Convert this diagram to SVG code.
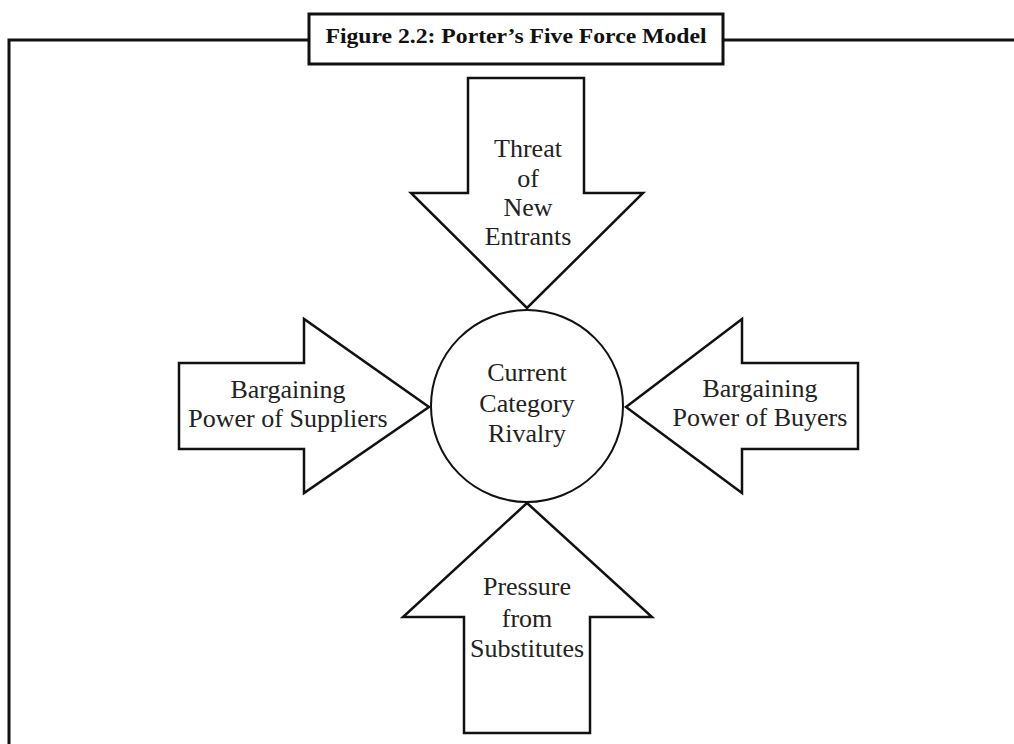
<svg xmlns="http://www.w3.org/2000/svg" width="1014" height="744" viewBox="0 0 1014 744">
<style>
.frame{fill:none;stroke:#111;stroke-width:3}
.arrow{fill:#fff;stroke:#111;stroke-width:2.5;stroke-linejoin:miter}
.circ{fill:#fff;stroke:#111;stroke-width:2}
.lbl{font-family:"Liberation Serif","Times New Roman",serif;font-size:26px;fill:#222;text-anchor:middle}
.title{font-family:"Liberation Serif","Times New Roman",serif;font-size:21px;font-weight:bold;fill:#111;text-anchor:middle}
</style>
<rect width="1014" height="744" fill="#fff"/>
<g id="frame">
<path class="frame" d="M9,744 V40 H309 M723,40 H1014"/>
</g>
<g id="title">
<rect x="309" y="14" width="414" height="50" fill="#fff" stroke="#111" stroke-width="3"/>
<text class="title" x="516" y="43" textLength="381" lengthAdjust="spacingAndGlyphs">Figure 2.2: Porter’s Five Force Model</text>
</g>
<g id="connectors">
</g>
<g id="threat">
<polygon class="arrow" points="468,78 584,78 584,193 643,193 527,308 411,193 468,193"/>
<text class="lbl" x="528" y="157">Threat</text>
<text class="lbl" x="528" y="187">of</text>
<text class="lbl" x="528" y="216">New</text>
<text class="lbl" x="528" y="245">Entrants</text>
</g>
<g id="suppliers">
<polygon class="arrow" points="179,363 304,363 304,319 429,407 304,493 304,449 179,449"/>
<text class="lbl" x="288" y="398">Bargaining</text>
<text class="lbl" x="288" y="427">Power of Suppliers</text>
</g>
<g id="buyers">
<polygon class="arrow" points="858,363 742,363 742,319 626,407 742,493 742,449 858,449"/>
<text class="lbl" x="760" y="397">Bargaining</text>
<text class="lbl" x="760" y="426">Power of Buyers</text>
</g>
<g id="substitutes">
<polygon class="arrow" points="527,503 652,617 590,617 590,733 464,733 464,617 403,617"/>
<text class="lbl" x="527" y="595">Pressure</text>
<text class="lbl" x="527" y="627">from</text>
<text class="lbl" x="527" y="657">Substitutes</text>
</g>
<g id="rivalry">
<circle class="circ" cx="527" cy="406" r="96"/>
<text class="lbl" x="527" y="381">Current</text>
<text class="lbl" x="527" y="412">Category</text>
<text class="lbl" x="527" y="442">Rivalry</text>
</g>
</svg>
